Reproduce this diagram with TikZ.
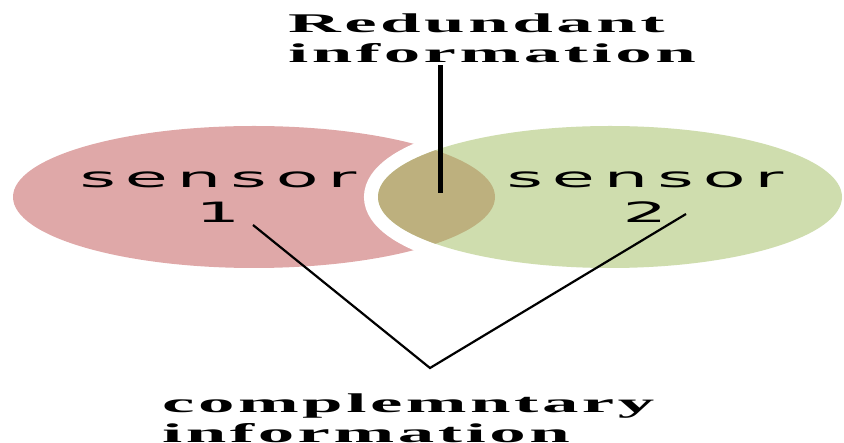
\documentclass[tikz,border=0pt]{standalone}
\usepackage{fontspec}
\usepackage{tikz}
\setmainfont{Liberation Serif}
\newfontfamily\sensorfont[FakeStretch=2.5, LetterSpace=32]{DejaVu Sans}
\newfontfamily\labelfont[FakeStretch=2.7, LetterSpace=13]{Liberation Serif}
\definecolor{sensorred}{RGB}{223,168,168}
\definecolor{sensorgreen}{RGB}{207,221,174}
\definecolor{overlap}{RGB}{189,176,126}
\tikzset{
    sensortext/.style={inner sep=0pt, align=center, font=\sensorfont\fontsize{28}{35}\selectfont},
    infotext/.style={inner sep=0pt, align=left, font=\labelfont\bfseries\fontsize{27}{30}\selectfont}
}

\begin{document}
\begin{tikzpicture}[x=1pt, y=-1pt]
    \useasboundingbox (0,0) rectangle (844,443);

    \fill[sensorred] (254,197) ellipse [x radius=241, y radius=71];
    \draw[white, line width=28pt] (610,197) ellipse [x radius=232, y radius=71];
    \fill[sensorgreen] (610,197) ellipse [x radius=232, y radius=71];
    \begin{scope}
        \clip (254,197) ellipse [x radius=241, y radius=71];
        \fill[overlap] (610,197) ellipse [x radius=232, y radius=71];
    \end{scope}

    \node[sensortext, anchor=north] (sensor1) at (218,172) {sensor\\1};
    \node[sensortext, anchor=north] (sensor2) at (645,172) {sensor\\2};

    \node[infotext, anchor=north west] (redundant) at (288,14) {Redundant\\information};
    \node[infotext, anchor=north west] (complementary) at (162,394) {complemntary\\information};

    \coordinate (lens) at (440,193);
    \coordinate (s1) at (253,225);
    \coordinate (s2) at (686,214);
    \coordinate (apex) at (430,368);

    \draw[line width=5pt] (lens |- redundant.south) ++(0,2) -- (lens);
    \draw[line width=2.2pt] (s1) -- (apex) -- (s2);
\end{tikzpicture}
\end{document}
